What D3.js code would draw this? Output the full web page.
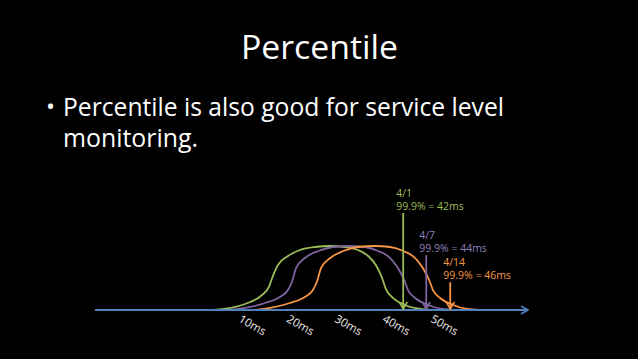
<!DOCTYPE html>
<html>
<head>
<meta charset="utf-8">
<script src="https://cdn.jsdelivr.net/npm/d3@7"></script>
<style>
  body { margin: 0; background: #000; }
  svg { display: block; }
</style>
</head>
<body>
<div id="slide"></div>
<script>
// slide text
var slideTitle = "Percentile";
var bulletLines = ["Percentile is also good for service level", "monitoring."];

// x axis ticks (ms)
var tickValues = [10, 20, 30, 40, 50];

// latency distributions, [ms, relative frequency]
var green = [[1.9,0],[6.5,4.8],[9.6,12.7],[12.1,23.8],[13.6,38],[14.2,50.8],[15.4,71.4],[17.5,85.7],[20.0,95.2],[23.1,100],[26.3,101.6],[29.4,100],[32.1,95.2],[34.2,85.7],[35.8,71.4],[37.1,50.8],[37.9,33.3],[39.4,19],[41.9,7.9],[45.0,1.6],[47.5,0]];
var purple = [[5.4,0],[8.5,3.2],[12.7,11.1],[15.8,20.6],[17.5,31.7],[18.3,44.4],[19.2,66.7],[21.0,82.5],[23.8,93.7],[26.9,100],[30.4,101.6],[33.5,100],[36.3,93.7],[38.8,82.5],[40.4,66.7],[41.7,47.6],[42.5,31.7],[44.0,19],[46.7,7.9],[49.6,1.6],[52.3,0]];
var orange = [[10.6,0],[13.8,3.2],[17.9,11.1],[21.0,20.6],[22.7,31.7],[23.5,44.4],[24.4,66.7],[26.3,82.5],[29.0,93.7],[32.1,100],[35.6,101.6],[38.8,100],[41.5,93.7],[44.0,82.5],[45.6,66.7],[46.9,47.6],[47.7,31.7],[49.2,19],[51.9,7.9],[54.8,1.6],[57.5,0]];

// percentile markers
var dates = ["4/1", "4/7", "4/14"];
var p999 = [42, 44, 46];
var arrowMs = [41.5, 46.3, 51.3];
var arrowTop = [154, 87, 44];

var colors = ["#9bbb59", "#8064a2", "#f79646"];
var textColors = ["#9bbb59", "#8f7fba", "#f79646"];

var w = 638, h = 359;
var axisY = 310, axisX0 = 95, axisX1 = 528;

var svg = d3.select("#slide")
  .append("svg")
  .attr("width", w)
  .attr("height", h)
  .style("background", "#000");

var font = "'Open Sans', sans-serif";

// title
svg.append("text")
  .attr("x", 241).attr("y", 59)
  .attr("textLength", 157)
  .attr("lengthAdjust", "spacingAndGlyphs")
  .style("font-family", font)
  .style("font-size", "33px")
  .attr("fill", "#fff")
  .text(slideTitle);

// bullet
svg.append("text")
  .attr("x", 46).attr("y", 115)
  .style("font-family", font)
  .style("font-size", "24px")
  .attr("fill", "#fff")
  .text("\u2022");

svg.selectAll(".bullet")
  .data(bulletLines)
  .enter()
  .append("text")
  .attr("class", "bullet")
  .attr("x", 63)
  .attr("y", function(d, i) { return 116 + i * 31; })
  .attr("textLength", function(d, i) { return i == 0 ? 441 : 135; })
  .attr("lengthAdjust", "spacingAndGlyphs")
  .style("font-family", font)
  .style("font-size", "25px")
  .attr("fill", "#fff")
  .text(function(d) { return d; });

// scales
var x = d3.scaleLinear()
  .domain([10, 50])
  .range([252, 444]);

var y = d3.scaleLinear()
  .domain([0, 100])
  .range([axisY, 247]);

// markers
var defs = svg.append("defs");
colors.forEach(function(c, i) {
  defs.append("marker")
    .attr("id", "arr" + i)
    .attr("viewBox", "-8 -6 10 12")
    .attr("refX", 0).attr("refY", 0)
    .attr("markerWidth", 10).attr("markerHeight", 12)
    .attr("markerUnits", "userSpaceOnUse")
    .attr("orient", "auto")
    .append("path")
    .attr("d", "M-7,-4L0,0L-7,4")
    .attr("fill", "none")
    .attr("stroke", c)
    .attr("stroke-width", 1.6);
});
defs.append("marker")
  .attr("id", "axisArr")
  .attr("viewBox", "-8 -6 10 12")
  .attr("refX", 0).attr("refY", 0)
  .attr("markerWidth", 10).attr("markerHeight", 12)
  .attr("markerUnits", "userSpaceOnUse")
  .attr("orient", "auto")
  .append("path")
  .attr("d", "M-7,-4L0,0L-7,4")
  .attr("fill", "none")
  .attr("stroke", "#4f81bd")
  .attr("stroke-width", 1.6);

// distributions
var line = d3.line()
  .x(function(d) { return x(d[0]); })
  .y(function(d) { return y(d[1]); })
  .curve(d3.curveMonotoneX);

svg.selectAll(".dist")
  .data([green, purple, orange])
  .enter()
  .append("path")
  .attr("class", "dist")
  .attr("fill", "none")
  .attr("stroke", function(d, i) { return colors[i]; })
  .attr("stroke-width", 1.8)
  .attr("d", line);

// axis line
svg.append("line")
  .attr("x1", axisX0).attr("x2", axisX1)
  .attr("y1", axisY).attr("y2", axisY)
  .attr("stroke", "#4f81bd")
  .attr("stroke-width", 2)
  .attr("marker-end", "url(#axisArr)");

// tick labels
var xAxis = svg.append("g")
  .attr("transform", "translate(0," + axisY + ")")
  .call(d3.axisBottom(x)
    .tickValues(tickValues)
    .tickSize(0)
    .tickFormat(function(d) { return d + "ms"; }));
xAxis.select(".domain").remove();
xAxis.selectAll("text")
  .attr("y", 0)
  .attr("dy", "0.35em")
  .attr("transform", "translate(0,15) rotate(30)")
  .attr("text-anchor", "middle")
  .style("font-family", font)
  .style("font-size", "11.5px")
  .attr("fill", "#eeeeee");

// percentile arrows
var marks = svg.selectAll(".mark")
  .data(dates)
  .enter()
  .append("g")
  .attr("class", "mark");

marks.append("line")
  .attr("x1", function(d, i) { return x(arrowMs[i]); })
  .attr("x2", function(d, i) { return x(arrowMs[i]); })
  .attr("y1", function(d, i) { return y(arrowTop[i]); })
  .attr("y2", y(0) - 1)
  .attr("stroke", function(d, i) { return colors[i]; })
  .attr("stroke-width", 1.8)
  .attr("marker-end", function(d, i) { return "url(#arr" + i + ")"; });

marks.append("text")
  .attr("x", function(d, i) { return x(arrowMs[i]) - 7; })
  .attr("y", function(d, i) { return y(arrowTop[i]) - 16; })
  .style("font-family", font)
  .style("font-size", "10.5px")
  .attr("fill", function(d, i) { return textColors[i]; })
  .text(function(d) { return d; });

marks.append("text")
  .attr("x", function(d, i) { return x(arrowMs[i]) - 7; })
  .attr("y", function(d, i) { return y(arrowTop[i]) - 3; })
  .style("font-family", font)
  .style("font-size", "10.5px")
  .attr("fill", function(d, i) { return textColors[i]; })
  .text(function(d, i) { return "99.9% = " + p999[i] + "ms"; });
</script>
</body>
</html>
